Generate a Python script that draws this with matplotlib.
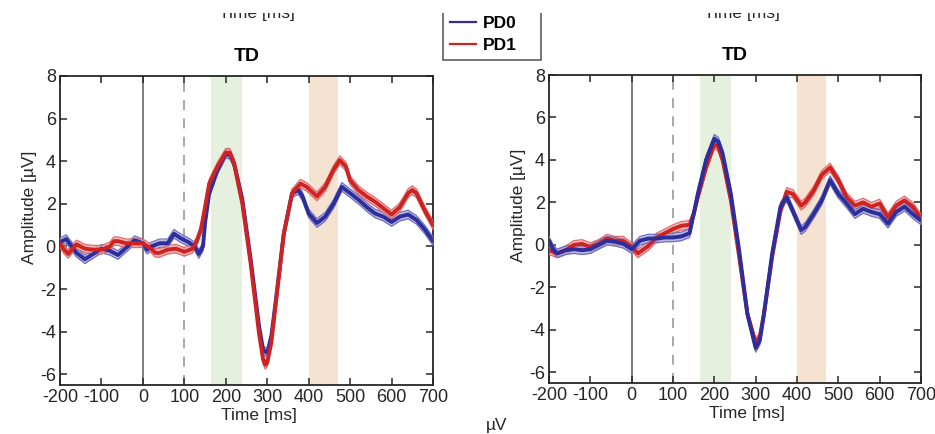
import matplotlib
matplotlib.use("Agg")
import matplotlib.pyplot as plt
import numpy as np
from matplotlib.lines import Line2D
from matplotlib.patches import Rectangle

plt.rcParams["font.family"] = ["Liberation Sans", "DejaVu Sans"]
plt.rcParams["axes.unicode_minus"] = False

# ---- ERP waveforms (µV) ----
# Left panel
left_pd0_t = [-200, -185, -160, -140, -120, -100, -80, -60, -40, -20, 0, 10, 20, 40, 60, 75, 90,
              110, 125, 135, 145, 150, 160, 180, 200, 210, 220, 240, 260, 280, 290, 300, 310, 320,
              340, 360, 375, 385, 400, 420, 440, 460, 480, 500, 520, 540, 560, 580, 600, 620,
              640, 660, 680, 700]
left_pd0_v = [0.2, 0.35, -0.3, -0.6, -0.35, -0.1, -0.2, -0.4, -0.05, 0.3, 0.15, -0.15, 0.0, 0.15,
              0.15, 0.6, 0.4, 0.2, 0.0, -0.35, 0.0, 1.1, 2.5, 3.6, 4.35, 4.3, 3.9, 2.2, -0.6, -3.7,
              -4.85, -5.0, -4.2, -2.65, 0.6, 2.5, 2.65, 2.35, 1.55, 1.1, 1.4, 2.0, 2.8, 2.5, 2.2,
              1.85, 1.55, 1.4, 1.15, 1.4, 1.5, 1.25, 0.8, 0.25]

left_pd1_t = [-200, -190, -180, -170, -160, -140, -120, -100, -80, -70, -60, -40, -20, 0, 20, 30,
              40, 60, 80, 100, 120, 130, 140, 150, 160, 180, 200, 210, 220, 240, 260, 280, 290,
              295, 300, 310, 320, 340, 360, 380, 395, 420, 440, 460, 475, 490, 500, 520, 540,
              560, 580, 600, 620, 640, 650, 660, 680, 700]
left_pd1_v = [0.15, -0.15, -0.35, -0.1, 0.1, -0.1, -0.15, -0.15, 0.0, 0.25, 0.25, 0.15, 0.15,
              0.15, -0.1, -0.3, -0.3, -0.15, -0.1, -0.25, -0.1, 0.25, 0.8, 1.85, 2.95, 3.75, 4.4,
              4.4, 3.9, 2.0, -0.8, -4.05, -5.3, -5.55, -5.45, -4.5, -2.8, 0.6, 2.5, 2.95, 2.8,
              2.35, 2.8, 3.6, 4.05, 3.75, 3.1, 2.65, 2.35, 2.1, 1.8, 1.5, 1.85, 2.5, 2.65, 2.5,
              1.7, 1.0]

# Right panel
right_pd0_t = [-200, -190, -180, -160, -140, -120, -100, -80, -60, -40, -20, 0, 20, 40, 60, 80,
               100, 120, 140, 150, 160, 180, 200, 210, 220, 240, 260, 280, 300, 310, 320, 340,
               360, 375, 390, 410, 420, 440, 460, 480, 500, 520, 540, 560, 580, 600, 620, 640,
               660, 680, 700]
right_pd0_v = [0.2, -0.2, -0.4, -0.25, -0.2, -0.25, -0.2, 0.0, 0.2, 0.15, 0.05, -0.2, 0.2, 0.3,
               0.3, 0.35, 0.35, 0.4, 0.55, 1.45, 2.4, 4.0, 5.0, 4.85, 4.3, 2.4, -0.25, -3.25,
               -4.85, -4.5, -3.25, -0.4, 1.8, 2.25, 1.6, 0.7, 0.85, 1.45, 2.1, 3.05, 2.4, 1.95,
               1.45, 1.7, 1.55, 1.45, 1.0, 1.55, 1.8, 1.45, 1.15]

right_pd1_t = [-200, -180, -160, -140, -120, -100, -80, -60, -40, -20, 0, 15, 40, 60, 80, 100,
               120, 140, 150, 160, 180, 200, 210, 220, 240, 260, 280, 300, 310, 320, 340, 360,
               375, 390, 410, 420, 440, 460, 480, 500, 520, 540, 560, 580, 600, 620, 640, 660,
               680, 700]
right_pd1_v = [-0.25, -0.4, -0.25, 0.0, 0.05, -0.1, 0.05, 0.3, 0.2, 0.2, -0.1, -0.4, -0.05,
               0.35, 0.55, 0.75, 0.9, 0.95, 1.45, 2.25, 3.65, 4.75, 4.6, 4.0, 2.1, -0.55, -3.25,
               -4.6, -4.35, -3.25, -0.55, 1.6, 2.5, 2.4, 1.85, 2.0, 2.55, 3.3, 3.65, 3.05, 2.25,
               1.85, 2.0, 1.8, 1.95, 1.3, 1.85, 2.1, 1.8, 1.25]

# standard error of the mean (µV)
se_pd0 = 0.2
se_pd1 = 0.2

series_names = ["PD0", "PD1"]
panel_title = "TD"

# analysis windows (ms)
early_window = (165, 240)
late_window = (400, 470)
stim_onset = 0
marker_time = 100

x_ticks = list(range(-200, 701, 100))
y_ticks = list(range(-6, 9, 2))

# ---- styling ----
c_pd0, c_pd0_band, c_pd0_edge = "#2d2d9c", "#a3a3da", "#7070c0"
c_pd1, c_pd1_band, c_pd1_edge = "#cf2323", "#efa0a0", "#e06a6a"
text_c = "#262626"

W, H = 935, 434
fig = plt.figure(figsize=(W / 100, H / 100), dpi=100)


def px_rect(x0, y0, x1, y1):
    return [x0 / W, 1 - y1 / H, (x1 - x0) / W, (y1 - y0) / H]


ax_l = fig.add_axes(px_rect(60, 76, 433, 385))
ax_r = fig.add_axes(px_rect(549, 75, 921, 383))


def draw_series(ax, t, v, se, c, band, edge):
    t = np.asarray(t, float)
    v = np.asarray(v, float)
    ax.fill_between(t, v - se, v + se, color=band, alpha=0.75, lw=0, zorder=3)
    ax.plot(t, v - se, color=edge, lw=0.9, zorder=3, solid_joinstyle="round")
    ax.plot(t, v + se, color=edge, lw=0.9, zorder=3, solid_joinstyle="round")
    ax.plot(t, v, color=c, lw=2.8, zorder=4, solid_joinstyle="round",
            solid_capstyle="round")


def style_axes(ax):
    ax.axvspan(*early_window, color="#e5f0de", lw=0, zorder=0)
    ax.axvspan(*late_window, color="#f6e2d0", lw=0, zorder=0)
    ax.axvline(stim_onset, color="#6a6a6a", lw=1.2, zorder=1)
    ax.axvline(marker_time, color="#9a9a9a", lw=1.2, ls=(0, (6, 5)), zorder=1)
    ax.set_xlim(-200, 700)
    ax.set_ylim(-6.5, 8)
    ax.set_xticks(x_ticks)
    ax.set_yticks(y_ticks)
    ax.tick_params(direction="in", length=5, width=1.1, top=True, right=True,
                   labelsize=13, colors=text_c, pad=3)
    for s in ax.spines.values():
        s.set_color(text_c)
        s.set_linewidth(1.3)
    ax.set_xlabel("Time [ms]", fontsize=12.5, color=text_c)
    ax.set_ylabel("Amplitude [µV]", fontsize=12.5, color=text_c)
    ax.xaxis.set_label_coords(0.533, -0.075)
    ax.yaxis.set_label_coords(-0.062, 0.576)
    ax.set_title(panel_title, fontsize=14, fontweight="bold", color="black", pad=11)


style_axes(ax_l)
draw_series(ax_l, left_pd0_t, left_pd0_v, se_pd0, c_pd0, c_pd0_band, c_pd0_edge)
draw_series(ax_l, left_pd1_t, left_pd1_v, se_pd1, c_pd1, c_pd1_band, c_pd1_edge)

style_axes(ax_r)
draw_series(ax_r, right_pd1_t, right_pd1_v, se_pd1, c_pd1, c_pd1_band, c_pd1_edge)
draw_series(ax_r, right_pd0_t, right_pd0_v, se_pd0, c_pd0, c_pd0_band, c_pd0_edge)

# x-labels of the row of panels above
for xc in (257, 742):
    fig.text(xc / W, 1 - 18 / H, "Time [ms]", ha="center", va="baseline",
             fontsize=12.5, color=text_c)

# colour-bar unit of the map row below
fig.text(497 / W, 1 / H, "µV", ha="center", va="bottom", fontsize=12.5, color=text_c)

# legend
handles = [Line2D([], [], color=c_pd0, lw=1.6), Line2D([], [], color=c_pd1, lw=1.6)]
leg = fig.legend(handles, series_names, loc="lower left",
                 bbox_to_anchor=(443 / W, 1 - 60 / H, 98 / W, 0.1), mode="expand",
                 frameon=True, fancybox=False,
                 prop={"weight": "bold", "size": 12.5},
                 handlelength=1.5, handletextpad=0.4, labelspacing=0.38,
                 borderpad=0.4, borderaxespad=0)
leg.get_frame().set_edgecolor("#222222")
leg.get_frame().set_linewidth(1.1)

# blank strip along the top edge
fig.patches.append(Rectangle((0, 1 - 13 / H), 1, 13 / H, transform=fig.transFigure,
                             facecolor="white", edgecolor="none", zorder=10))

fig.savefig("out.png", dpi=100, facecolor="white")
